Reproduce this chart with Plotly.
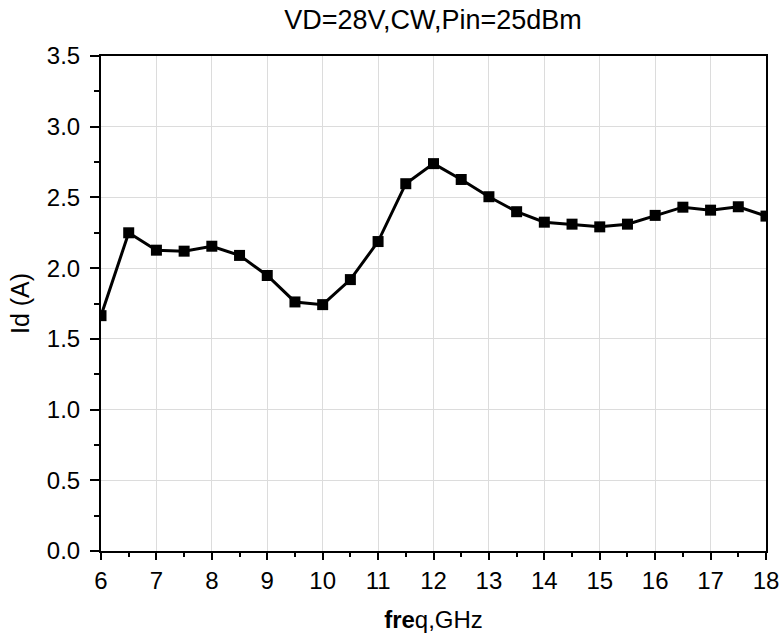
import plotly.graph_objects as go

freq = [6, 6.5, 7, 7.5, 8, 8.5, 9, 9.5, 10, 10.5, 11, 11.5, 12, 12.5, 13, 13.5,
        14, 14.5, 15, 15.5, 16, 16.5, 17, 17.5, 18]
id_a = [1.664, 2.25, 2.127, 2.12, 2.155, 2.09, 1.948, 1.761, 1.742, 1.919, 2.188,
        2.597, 2.739, 2.627, 2.505, 2.399, 2.325, 2.311, 2.292, 2.311, 2.373,
        2.431, 2.41, 2.434, 2.368]

title_text = "VD=28V,CW,Pin=25dBm"
x_title = "<b>fre</b>q,GHz"
y_title = "Id (A)"

fig = go.Figure()
fig.add_trace(go.Scatter(
    x=freq, y=id_a, mode="lines+markers",
    line=dict(color="black", width=3),
    marker=dict(symbol="square", size=11, color="black"),
    cliponaxis=True, showlegend=False,
))

font = "Liberation Sans, Arial, sans-serif"
fig.update_layout(
    width=783, height=637,
    margin=dict(l=101, r=17, t=56, b=86),
    paper_bgcolor="white", plot_bgcolor="white",
    font=dict(family=font, color="black", size=24),
    title=dict(text=title_text, x=0.553, xanchor="center", y=0.969, yanchor="middle",
               font=dict(size=27, family=font, color="black")),
    xaxis=dict(
        range=[6, 18], tickmode="linear", tick0=6, dtick=1, automargin=False,
        showline=True, linecolor="black", linewidth=2, mirror=True,
        ticks="outside", ticklen=7, tickwidth=2, tickcolor="black",
        minor=dict(dtick=0.5, ticks="outside", ticklen=4, tickwidth=2, tickcolor="black", showgrid=False),
        showgrid=True, gridcolor="#dcdcdc", gridwidth=1,
        zeroline=False, tickfont=dict(size=24),
        title=dict(text=x_title, font=dict(size=24), standoff=18),
    ),
    yaxis=dict(
        range=[0, 3.5], tickmode="linear", tick0=0, dtick=0.5, tickformat=".1f", automargin=False,
        showline=True, linecolor="black", linewidth=2, mirror=True,
        ticks="outside", ticklen=9, tickwidth=2, tickcolor="black",
        ticklabelstandoff=5,
        minor=dict(dtick=0.25, ticks="outside", ticklen=5, tickwidth=2, tickcolor="black", showgrid=False),
        showgrid=True, gridcolor="#dcdcdc", gridwidth=1,
        zeroline=False, tickfont=dict(size=24),
        title=dict(text=y_title, font=dict(size=25), standoff=10),
    ),
)

fig.write_html("out.html")
